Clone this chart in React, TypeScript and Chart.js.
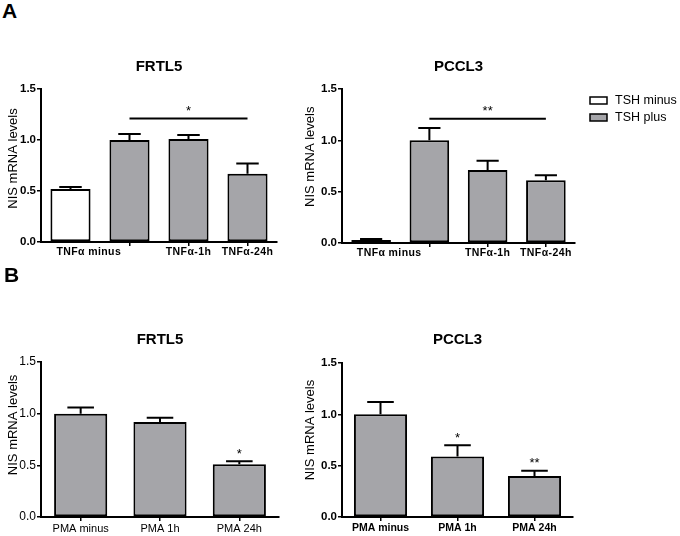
import { useEffect, useRef } from "react";
import { Chart, registerables } from "chart.js";

Chart.register(...registerables);

const FONT = "'Liberation Sans', Arial, Helvetica, sans-serif";
const GRAY = "#a5a5a9";

// ---------------- data ----------------
const seriesNames = ["TSH minus", "TSH plus"];

// Panel A (TNFα)
const tnfCategories = ["TNFα minus", "", "TNFα-1h", "TNFα-24h"];
const frtl5TnfTshMinus = [0.52, null, null, null];
const frtl5TnfTshMinusSem = [0.02, null, null, null];
const frtl5TnfTshPlus = [null, 1.0, 1.01, 0.67];
const frtl5TnfTshPlusSem = [null, 0.06, 0.04, 0.1];
const pccl3TnfTshMinus = [0.03, null, null, null];
const pccl3TnfTshMinusSem = [0.01, null, null, null];
const pccl3TnfTshPlus = [null, 1.0, 0.71, 0.61];
const pccl3TnfTshPlusSem = [null, 0.12, 0.09, 0.05];
const frtl5TnfSig = { from: 1, to: 3, value: 1.21, mark: "*" };
const pccl3TnfSig = { from: 1, to: 3, value: 1.21, mark: "**" };

// Panel B (PMA)
const pmaCategories = ["PMA minus", "PMA 1h", "PMA 24h"];
const frtl5Pma = [1.0, 0.92, 0.51];
const frtl5PmaSem = [0.06, 0.04, 0.03];
const frtl5PmaMarks = ["", "", "*"];
const pccl3Pma = [1.0, 0.59, 0.4];
const pccl3PmaSem = [0.12, 0.11, 0.05];
const pccl3PmaMarks = ["", "*", "**"];

const yTickValues = [0, 0.5, 1.0, 1.5];
const yAxisTitle = "NIS mRNA levels";

// ---------------- plugin ----------------
function annotationsPlugin(p: any) {
  return {
    id: "annotations",
    afterDatasetsDraw(chart: any) {
      const ctx = chart.ctx;
      const xs = chart.scales.x;
      const ys = chart.scales.y;
      const area = chart.chartArea;
      ctx.save();
      ctx.strokeStyle = "#000";
      ctx.fillStyle = "#000";
      ctx.lineWidth = 2;
      const errTop: number[] = [];
      // error bars (mean + SEM, upward)
      chart.data.datasets.forEach((ds: any, di: number) => {
        const meta = chart.getDatasetMeta(di);
        ds.data.forEach((v: any, i: number) => {
          const e = ds.errors ? ds.errors[i] : null;
          if (v == null || e == null) return;
          const bar: any = meta.data[i];
          const top = ys.getPixelForValue(v + e);
          errTop[i] = top;
          const half = (bar.width * p.capRatio) / 2;
          ctx.beginPath();
          ctx.moveTo(bar.x, bar.y);
          ctx.lineTo(bar.x, top);
          ctx.moveTo(bar.x - half, top);
          ctx.lineTo(bar.x + half, top);
          ctx.stroke();
        });
      });

      const drawMark = (text: string, cx: number, cy: number) => {
        const size = 13;
        ctx.font = `${size}px ${FONT}`;
        ctx.textAlign = "center";
        ctx.textBaseline = "alphabetic";
        ctx.fillText(text, cx, cy + 0.58 * size);
      };

      if (p.sig) {
        const x1 = xs.getPixelForValue(p.sig.from);
        const x2 = xs.getPixelForValue(p.sig.to);
        const yy = ys.getPixelForValue(p.sig.value);
        ctx.beginPath();
        ctx.lineWidth = 2;
        ctx.moveTo(x1, yy);
        ctx.lineTo(x2, yy);
        ctx.stroke();
        drawMark(p.sig.mark, (x1 + x2) / 2, yy - 11);
      }
      if (p.marks) {
        p.marks.forEach((m: string, i: number) => {
          if (!m) return;
          drawMark(m, xs.getPixelForValue(i), errTop[i] - 11);
        });
      }

      // custom x labels (panel A)
      if (p.customX) {
        const step = xs.getPixelForValue(1) - xs.getPixelForValue(0);
        ctx.font = `bold 10.5px ${FONT}`;
        (ctx as any).letterSpacing = "0.4px";
        ctx.textAlign = "center";
        ctx.textBaseline = "middle";
        chart.data.labels.forEach((lab: string, i: number) => {
          if (!lab) return;
          const shift = p.customX.shifts[i] || 0;
          ctx.fillText(lab, xs.getPixelForValue(i) + shift * step, area.bottom + 10);
        });
        (ctx as any).letterSpacing = "0px";
      }

      // y axis title
      ctx.save();
      ctx.translate(area.left + p.yTitleDx, area.top + p.yTitleFrac * (area.bottom - area.top));
      ctx.rotate(-Math.PI / 2);
      ctx.font = `13px ${FONT}`;
      ctx.textAlign = "center";
      ctx.textBaseline = "middle";
      ctx.fillText(yAxisTitle, 0, 0);
      ctx.restore();

      // legend
      if (p.legend) {
        chart.data.datasets.forEach((ds: any, k: number) => {
          const bx = area.right + 15;
          const by = area.top + 8 + k * 17;
          ctx.fillStyle = ds.backgroundColor;
          ctx.fillRect(bx, by, 17, 7);
          ctx.lineWidth = 1.5;
          ctx.strokeStyle = "#000";
          ctx.strokeRect(bx, by, 17, 7);
          ctx.fillStyle = "#000";
          ctx.font = `12.5px ${FONT}`;
          ctx.textAlign = "left";
          ctx.textBaseline = "middle";
          ctx.fillText(ds.label, bx + 25, by + 3.5);
        });
      }
      ctx.restore();
    },
  };
}

function makeConfig(p: any): any {
  return {
    type: "bar",
    data: {
      labels: p.categories,
      datasets: p.series.map((s: any) => ({
        label: s.label,
        data: s.data,
        errors: s.sem,
        backgroundColor: s.color,
        borderColor: "#000",
        borderWidth: 2,
        borderSkipped: false,
        skipNull: true,
        barPercentage: p.barPct,
        categoryPercentage: 1,
      })),
    },
    options: {
      responsive: false,
      animation: false,
      events: [],
      layout: { padding: { left: 0, right: p.padRight, top: 0, bottom: 0 } },
      plugins: {
        legend: { display: false },
        tooltip: { enabled: false },
        title: {
          display: true,
          text: p.title,
          fullSize: false,
          color: "#000",
          font: { family: FONT, size: 15, weight: "bold" },
          padding: { top: p.titleTop, bottom: p.titleBottom },
        },
      },
      scales: {
        x: {
          type: "category",
          offset: true,
          afterFit: (s: any) => {
            s.height = p.xHeight;
          },
          grid: {
            offset: false,
            drawOnChartArea: false,
            drawTicks: true,
            tickLength: 4,
            lineWidth: 1.5,
            color: (c: any) => (p.hideFirstTick && c.index === 0 ? "rgba(0,0,0,0)" : "#000"),
          },
          border: { color: "#000", width: 2 },
          ticks: {
            display: !p.customX,
            color: "#000",
            font: p.xFont,
            padding: 1,
            maxRotation: 0,
            autoSkip: false,
          },
        },
        y: {
          min: 0,
          max: 1.5,
          afterFit: (s: any) => {
            s.width = p.yWidth;
          },
          afterBuildTicks: (s: any) => {
            s.ticks = yTickValues.map((v) => ({ value: v }));
          },
          ticks: {
            color: "#000",
            font: p.yFont,
            padding: 1,
            callback: (v: any) => Number(v).toFixed(1),
          },
          grid: { drawOnChartArea: false, drawTicks: true, tickLength: 4, lineWidth: 1.5, color: "#000" },
          border: { color: "#000", width: 2 },
        },
      },
    },
    plugins: [annotationsPlugin(p)],
  };
}

const boldTick = { family: FONT, size: 11.5, weight: "bold" };

const panels: any[] = [
  {
    key: "a1",
    rect: { x: 0, y: 30, w: 340, h: 250 },
    title: "FRTL5",
    categories: tnfCategories,
    series: [
      { label: seriesNames[0], data: frtl5TnfTshMinus, sem: frtl5TnfTshMinusSem, color: "#ffffff" },
      { label: seriesNames[1], data: frtl5TnfTshPlus, sem: frtl5TnfTshPlusSem, color: GRAY },
    ],
    yWidth: 41,
    padRight: 63,
    titleTop: 28,
    titleBottom: 13,
    xHeight: 38,
    barPct: 0.68,
    capRatio: 0.56,
    hideFirstTick: true,
    customX: { shifts: [0.31, 0, 0, 0] },
    sig: frtl5TnfSig,
    yTitleDx: -27.7,
    yTitleFrac: 0.454,
    yFont: boldTick,
    xFont: boldTick,
    legend: false,
  },
  {
    key: "a2",
    rect: { x: 296, y: 30, w: 384, h: 250 },
    title: "PCCL3",
    categories: tnfCategories,
    series: [
      { label: seriesNames[0], data: pccl3TnfTshMinus, sem: pccl3TnfTshMinusSem, color: "#ffffff" },
      { label: seriesNames[1], data: pccl3TnfTshPlus, sem: pccl3TnfTshPlusSem, color: GRAY },
    ],
    yWidth: 46,
    padRight: 105,
    titleTop: 28,
    titleBottom: 13,
    xHeight: 37,
    barPct: 0.68,
    capRatio: 0.56,
    hideFirstTick: true,
    customX: { shifts: [0.31, 0, 0, 0] },
    sig: pccl3TnfSig,
    yTitleDx: -31.5,
    yTitleFrac: 0.44,
    yFont: boldTick,
    xFont: boldTick,
    legend: true,
  },
  {
    key: "b1",
    rect: { x: 0, y: 300, w: 300, h: 236 },
    title: "FRTL5",
    categories: pmaCategories,
    series: [{ label: "PMA", data: frtl5Pma, sem: frtl5PmaSem, color: GRAY }],
    yWidth: 41,
    padRight: 21,
    titleTop: 31,
    titleBottom: 13,
    xHeight: 19,
    barPct: 0.67,
    capRatio: 0.5,
    hideFirstTick: false,
    marks: frtl5PmaMarks,
    yTitleDx: -28,
    yTitleFrac: 0.406,
    yFont: { family: FONT, size: 12 },
    xFont: { family: FONT, size: 11 },
    legend: false,
  },
  {
    key: "b2",
    rect: { x: 296, y: 300, w: 384, h: 236 },
    title: "PCCL3",
    categories: pmaCategories,
    series: [{ label: "PMA", data: pccl3Pma, sem: pccl3PmaSem, color: GRAY }],
    yWidth: 46,
    padRight: 107,
    titleTop: 31,
    titleBottom: 14,
    xHeight: 19,
    barPct: 0.69,
    capRatio: 0.5,
    hideFirstTick: false,
    marks: pccl3PmaMarks,
    yTitleDx: -31.5,
    yTitleFrac: 0.435,
    yFont: boldTick,
    xFont: { family: FONT, size: 10.5, weight: "bold" },
    legend: false,
  },
];

function Panel({ spec }: { spec: any }) {
  const ref = useRef<HTMLCanvasElement>(null);
  useEffect(() => {
    const chart = new Chart(ref.current as HTMLCanvasElement, makeConfig(spec));
    return () => chart.destroy();
  }, [spec]);
  const r = spec.rect;
  return (
    <canvas
      ref={ref}
      width={r.w}
      height={r.h}
      style={{ position: "absolute", left: r.x, top: r.y, width: r.w, height: r.h, display: "block" }}
    />
  );
}

const letterStyle: any = {
  position: "absolute",
  fontFamily: FONT,
  fontWeight: "bold",
  fontSize: 21,
  lineHeight: "21px",
  color: "#000",
};

export default function App() {
  return (
    <div
      style={{
        position: "absolute",
        left: 0,
        top: 0,
        width: 680,
        height: 536,
        background: "#fff",
        overflow: "hidden",
      }}
    >
      {panels.map((p) => (
        <Panel key={p.key} spec={p} />
      ))}
      <div style={{ ...letterStyle, left: 2, top: 0 }}>A</div>
      <div style={{ ...letterStyle, left: 4, top: 264 }}>B</div>
    </div>
  );
}
